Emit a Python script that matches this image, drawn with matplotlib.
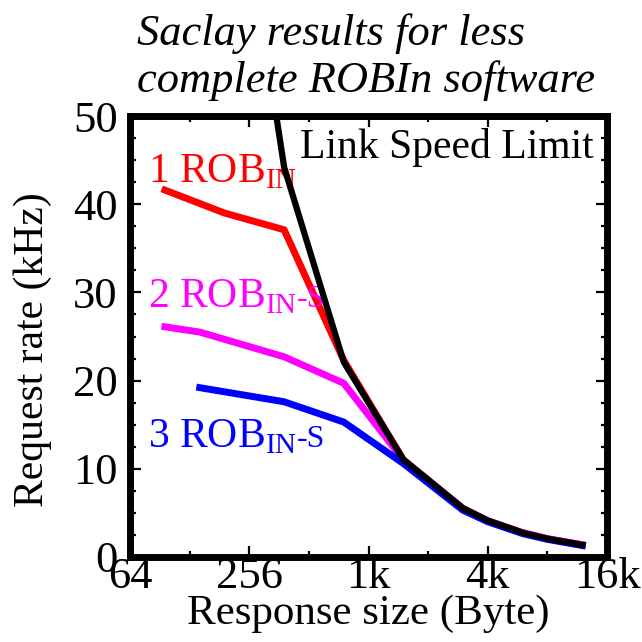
import matplotlib
matplotlib.use('Agg')
import matplotlib.pyplot as plt
from matplotlib.ticker import FixedLocator, NullFormatter

plt.rcParams['font.family'] = ['Liberation Serif', 'DejaVu Serif']
plt.rcParams['mathtext.fontset'] = 'custom'
plt.rcParams['mathtext.rm'] = 'Liberation Serif'

# response size (bytes) and request rate (kHz)
size1 = [96, 192, 384, 768, 1536, 3072, 4096, 6144, 8192, 12288]
rate1 = [41.6, 39.0, 37.1, 22.3, 11.0, 5.5, 4.1, 2.75, 2.07, 1.38]

size2 = [96, 144, 384, 768, 1536, 3072, 4096, 6144, 8192, 12288]
rate2 = [26.1, 25.5, 22.7, 19.7, 11.0, 5.5, 4.1, 2.75, 2.07, 1.38]

size3 = [144, 384, 768, 1536, 3072, 4096, 6144, 8192, 12288]
rate3 = [19.2, 17.6, 15.3, 10.6, 5.3, 4.0, 2.65, 2.0, 1.3]

sizel = [192, 384, 768, 1536, 3072, 4096, 6144, 8192, 12288]
ratel = [88.4, 44.2, 22.1, 11.05, 5.52, 4.14, 2.76, 2.07, 1.38]

xtk = [64, 256, 1024, 4096, 16384]
xtl = ['64', '256', '1k', '4k', '16k']
xmtk = [128, 512, 2048, 8192]

fig = plt.figure(figsize=(6.42, 6.42), dpi=100)
ax = fig.add_axes([0.2025, 0.1324, 0.743, 0.6869])

ax.plot(size1, rate1, color='#ff0000', lw=5, zorder=2)
ax.plot(size2, rate2, color='#ff00ff', lw=5, zorder=3)
ax.plot(size3, rate3, color='#0000ff', lw=5, zorder=4)
ax.plot(sizel, ratel, color='k', lw=4.5, zorder=5)

ax.set_xscale('log', base=2)
ax.set_xlim(64, 16384)
ax.set_ylim(0, 50)
ax.set_xticks(xtk)
ax.set_xticklabels(xtl)
ax.xaxis.set_minor_locator(FixedLocator(xmtk))
ax.xaxis.set_minor_formatter(NullFormatter())
ax.set_yticks([0, 10, 20, 30, 40, 50])
ax.yaxis.set_minor_locator(FixedLocator([2.5 + 2.5 * i for i in range(20) if (i + 1) % 4 != 0]))

ax.tick_params(which='both', direction='in', top=True, right=True, labelsize=32)
ax.tick_params(axis='x', pad=0)
ax.tick_params(axis='y', pad=9)
ax.tick_params(which='major', length=8, width=1.6)
ax.tick_params(which='minor', length=4.5, width=1.6)
for s in ax.spines.values():
    s.set_linewidth(5)

ax.set_xlabel('Response size (Byte)', fontsize=31, labelpad=-2)
ax.set_ylabel('Request rate (kHz)', fontsize=30)
ax.yaxis.set_label_coords(-0.163, 0.47)

# series labels
def rob_label(x, y, num, color, suffix=True):
    t = ax.text(x, y, r'%d ROB$_{\mathrm{IN}}$' % num, color=color, fontsize=30, va='baseline')
    if suffix:
        ax.annotate('-S', xy=(1, y), xycoords=(t, 'data'), color=color,
                    fontsize=23, va='baseline', ha='left')
    return t

rob_label(79, 42.5, 1, '#ff0000', suffix=False)
rob_label(79, 28.3, 2, '#ff00ff')
rob_label(79, 12.5, 3, '#0000ff')
ax.text(461, 45.2, 'Link Speed Limit', color='k', fontsize=30, va='baseline')

fig.text(0.213, 1 - 45 / 642, 'Saclay results for less',
         fontsize=32, style='italic', ha='left', va='baseline')
fig.text(0.213, 1 - 92 / 642, 'complete ROBIn software',
         fontsize=32, style='italic', ha='left', va='baseline')

fig.savefig('out.png', dpi=100)
